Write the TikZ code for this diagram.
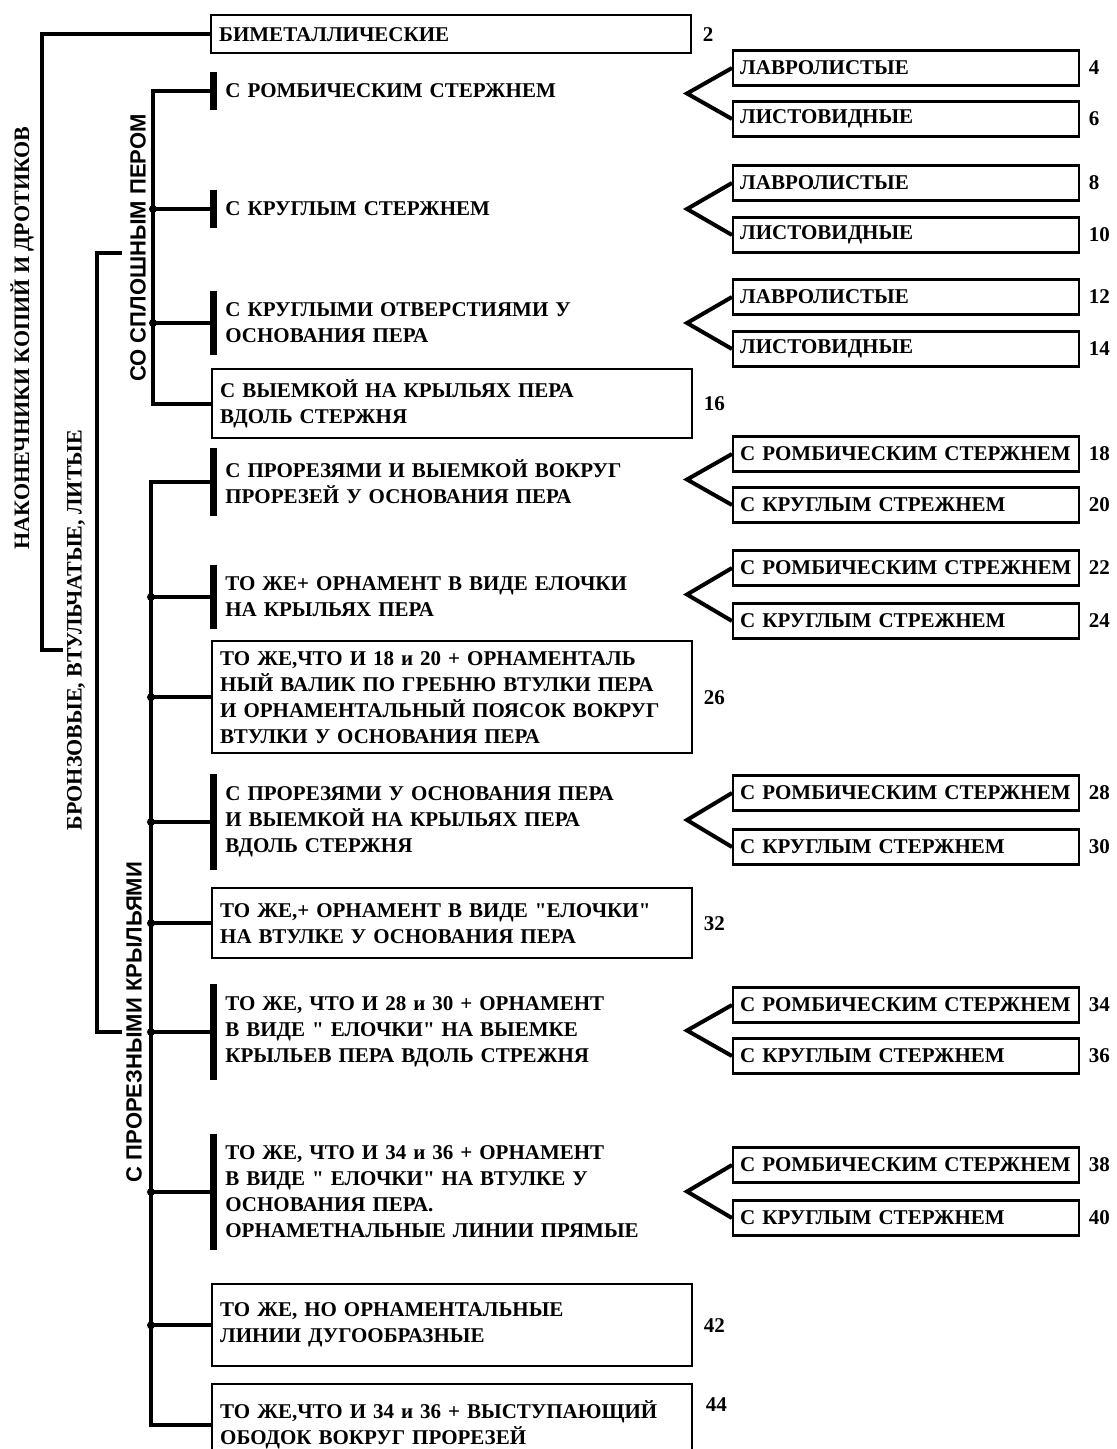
\documentclass[tikz,border=0pt]{standalone}
\usepackage{fontspec}
\setmainfont{Liberation Serif}
\newfontfamily\labelsans{Liberation Sans}
\usetikzlibrary{positioning, calc}
\newcommand\boxfont{\fontsize{10.5}{13}\selectfont\bfseries}
\newcommand\tagfont{\fontsize{11}{13}\selectfont\bfseries}
\newcommand\sidesans{\labelsans\fontsize{11}{13}\selectfont\bfseries}

\begin{document}
\begin{tikzpicture}[x=0.5pt, y=-0.5pt,
    mainbox/.style={draw, line width=1.2pt, anchor=north west, align=left, text width=232pt, inner xsep=4pt, font=\boxfont},
    subbox/.style={draw, line width=1.2pt, anchor=west, align=left, text width=166pt, inner xsep=3.5pt, minimum height=17.5pt, font=\boxfont},
    stem/.style={anchor=west, align=left, text width=232pt, inner xsep=6pt, inner ysep=6pt, font=\boxfont},
    stembar/.style={line width=3.5pt},
    link/.style={line width=2pt},
    jdot/.style={circle, fill, inner sep=0pt, minimum size=4pt},
    numlbl/.style={font=\boxfont, inner sep=1pt},
    sidelabel/.style={rotate=90, font=\tagfont, inner sep=1pt}]
    \useasboundingbox (0,0) rectangle (1116,1449);

    % side labels
    \node[sidelabel] (nak) at (22,338) {НАКОНЕЧНИКИ КОПИЙ И ДРОТИКОВ};
    \node[sidelabel] (bro) at (76,630) {БРОНЗОВЫЕ, ВТУЛЬЧАТЫЕ, ЛИТЫЕ};
    \node[sidelabel, font=\sidesans] (sol) at (138,248) {СО СПЛОШНЫМ ПЕРОМ};
    \node[sidelabel, font=\sidesans] (slo) at (134,1022) {С ПРОРЕЗНЫМИ КРЫЛЬЯМИ};

    % bimetal
    \node[mainbox, minimum height=19pt] (b2) at (210,14) {БИМЕТАЛЛИЧЕСКИЕ};
    \node[numlbl, right=4pt of b2] (n2) {2};

    % solid blade
    \node[stem] (i4) at (213,91) {С РОМБИЧЕСКИМ СТЕРЖНЕМ};
    \node[stem] (i8) at (213,209) {С КРУГЛЫМ СТЕРЖНЕМ};
    \node[stem] (i12) at (213,323) {С КРУГЛЫМИ ОТВЕРСТИЯМИ У\\ОСНОВАНИЯ ПЕРА};
    \node[mainbox, minimum height=34.5pt] (b16) at (211,368) {С ВЫЕМКОЙ НА КРЫЛЬЯХ ПЕРА\\ВДОЛЬ СТЕРЖНЯ};
    \node[numlbl, right=4pt of b16] (n16) {16};

    \node[subbox] (s4) at (732,68) {ЛАВРОЛИСТЫЕ};
    \node[subbox] (s6) at (732,119) {ЛИСТОВИДНЫЕ};
    \node[subbox] (s8) at (732,183) {ЛАВРОЛИСТЫЕ};
    \node[subbox] (s10) at (732,235) {ЛИСТОВИДНЫЕ};
    \node[subbox] (s12) at (732,297) {ЛАВРОЛИСТЫЕ};
    \node[subbox] (s14) at (732,349) {ЛИСТОВИДНЫЕ};
    \node[numlbl, right=3pt of s4] (n4) {4};
    \node[numlbl, right=3pt of s6] (n6) {6};
    \node[numlbl, right=3pt of s8] (n8) {8};
    \node[numlbl, right=3pt of s10] (n10) {10};
    \node[numlbl, right=3pt of s12] (n12) {12};
    \node[numlbl, right=3pt of s14] (n14) {14};

    % slotted wings
    \node[stem] (i18) at (213,482) {С ПРОРЕЗЯМИ И ВЫЕМКОЙ ВОКРУГ\\ПРОРЕЗЕЙ У ОСНОВАНИЯ ПЕРА};
    \node[stem] (i22) at (213,597) {ТО ЖЕ+ ОРНАМЕНТ В ВИДЕ ЕЛОЧКИ\\НА КРЫЛЬЯХ ПЕРА};
    \node[mainbox, minimum height=56pt] (b26) at (211,640) {ТО ЖЕ,ЧТО И 18 и 20 + ОРНАМЕНТАЛЬ\\НЫЙ ВАЛИК ПО ГРЕБНЮ ВТУЛКИ ПЕРА\\И ОРНАМЕНТАЛЬНЫЙ ПОЯСОК ВОКРУГ\\ВТУЛКИ У ОСНОВАНИЯ ПЕРА};
    \node[numlbl, right=4pt of b26] (n26) {26};
    \node[stem] (i28) at (213,822) {С ПРОРЕЗЯМИ У ОСНОВАНИЯ ПЕРА\\И ВЫЕМКОЙ НА КРЫЛЬЯХ ПЕРА\\ВДОЛЬ СТЕРЖНЯ};
    \node[mainbox, minimum height=35pt] (b32) at (211,887) {ТО ЖЕ,+ ОРНАМЕНТ В ВИДЕ \textquotedbl ЕЛОЧКИ\textquotedbl\\НА ВТУЛКЕ У ОСНОВАНИЯ ПЕРА};
    \node[numlbl, right=4pt of b32] (n32) {32};
    \node[stem] (i34) at (213,1032) {ТО ЖЕ, ЧТО И 28 и 30 + ОРНАМЕНТ\\В ВИДЕ \textquotedbl\ ЕЛОЧКИ\textquotedbl\ НА ВЫЕМКЕ\\КРЫЛЬЕВ ПЕРА ВДОЛЬ СТРЕЖНЯ};
    \node[stem] (i38) at (213,1192) {ТО ЖЕ, ЧТО И 34 и 36 + ОРНАМЕНТ\\В ВИДЕ \textquotedbl\ ЕЛОЧКИ\textquotedbl\ НА ВТУЛКЕ У\\ОСНОВАНИЯ ПЕРА.\\ОРНАМЕТНАЛЬНЫЕ ЛИНИИ ПРЯМЫЕ};
    \node[mainbox, minimum height=41pt] (b42) at (211,1283) {ТО ЖЕ, НО ОРНАМЕНТАЛЬНЫЕ\\ЛИНИИ ДУГООБРАЗНЫЕ};
    \node[numlbl, right=4pt of b42] (n42) {42};
    \node[mainbox, minimum height=41pt] (b44) at (211,1383) {ТО ЖЕ,ЧТО И 34 и 36 + ВЫСТУПАЮЩИЙ\\ОБОДОК ВОКРУГ ПРОРЕЗЕЙ};
    \node[numlbl, anchor=west] (n44) at ([xshift=5pt, yshift=-11pt]b44.north east) {44};

    \node[subbox] (s18) at (732,454) {С РОМБИЧЕСКИМ СТЕРЖНЕМ};
    \node[subbox] (s20) at (732,505) {С КРУГЛЫМ СТРЕЖНЕМ};
    \node[subbox] (s22) at (732,568) {С РОМБИЧЕСКИМ СТРЕЖНЕМ};
    \node[subbox] (s24) at (732,621) {С КРУГЛЫМ СТРЕЖНЕМ};
    \node[subbox] (s28) at (732,793) {С РОМБИЧЕСКИМ СТЕРЖНЕМ};
    \node[subbox] (s30) at (732,847) {С КРУГЛЫМ СТЕРЖНЕМ};
    \node[subbox] (s34) at (732,1005) {С РОМБИЧЕСКИМ СТЕРЖНЕМ};
    \node[subbox] (s36) at (732,1056) {С КРУГЛЫМ СТЕРЖНЕМ};
    \node[subbox] (s38) at (732,1165) {С РОМБИЧЕСКИМ СТЕРЖНЕМ};
    \node[subbox] (s40) at (732,1218) {С КРУГЛЫМ СТЕРЖНЕМ};
    \node[numlbl, right=3pt of s18] (n18) {18};
    \node[numlbl, right=3pt of s20] (n20) {20};
    \node[numlbl, right=3pt of s22] (n22) {22};
    \node[numlbl, right=3pt of s24] (n24) {24};
    \node[numlbl, right=3pt of s28] (n28) {28};
    \node[numlbl, right=3pt of s30] (n30) {30};
    \node[numlbl, right=3pt of s34] (n34) {34};
    \node[numlbl, right=3pt of s36] (n36) {36};
    \node[numlbl, right=3pt of s38] (n38) {38};
    \node[numlbl, right=3pt of s40] (n40) {40};

    % brackets
    \coordinate (oc) at (42,650);
    \coordinate (oe) at (63,650);
    \draw[link] (b2.west) -| (oc) -- (oe);
    \coordinate (bt) at (122,253);
    \coordinate (bb) at (97,1032);
    \coordinate (be) at (122,1032);
    \draw[link] (bt) -| (bb) -- (be);

    % solid spine
    \coordinate (sx) at (153,0);
    \draw[link] (i4.west) -| (sx |- b16.west) -- (b16.west);
    \draw[link] (sx |- i8.west) -- (i8.west);
    \draw[link] (sx |- i12.west) -- (i12.west);
    \node[jdot] (d8) at (sx |- i8.west) {};
    \node[jdot] (d12) at (sx |- i12.west) {};

    % slotted spine
    \coordinate (px) at (151,0);
    \draw[link] (i18.west) -| (px |- b44.west) -- (b44.west);
    \draw[link] (px |- i22.west) -- (i22.west);
    \draw[link] (px |- b26.west) -- (b26.west);
    \draw[link] (px |- i28.west) -- (i28.west);
    \draw[link] (px |- b32.west) -- (b32.west);
    \draw[link] (px |- i34.west) -- (i34.west);
    \draw[link] (px |- i38.west) -- (i38.west);
    \draw[link] (px |- b42.west) -- (b42.west);
    \node[jdot] (d22) at (px |- i22.west) {};
    \node[jdot] (d26) at (px |- b26.west) {};
    \node[jdot] (d28) at (px |- i28.west) {};
    \node[jdot] (d32) at (px |- b32.west) {};
    \node[jdot] (d34) at (px |- i34.west) {};
    \node[jdot] (d38) at (px |- i38.west) {};
    \node[jdot] (d42) at (px |- b42.west) {};

    % bars
    \draw[stembar] (i4.north west) -- (i4.south west);
    \draw[stembar] (i8.north west) -- (i8.south west);
    \draw[stembar] (i12.north west) -- (i12.south west);
    \draw[stembar] (i18.north west) -- (i18.south west);
    \draw[stembar] (i22.north west) -- (i22.south west);
    \draw[stembar] (i28.north west) -- (i28.south west);
    \draw[stembar] (i34.north west) -- (i34.south west);
    \draw[stembar] (i38.north west) -- (i38.south west);

    % forks
    \draw[link] (s4.west) -- ($(s4.west)!.5!(s6.west)+(-45,0)$) -- (s6.west);
    \draw[link] (s8.west) -- ($(s8.west)!.5!(s10.west)+(-45,0)$) -- (s10.west);
    \draw[link] (s12.west) -- ($(s12.west)!.5!(s14.west)+(-45,0)$) -- (s14.west);
    \draw[link] (s18.west) -- ($(s18.west)!.5!(s20.west)+(-45,0)$) -- (s20.west);
    \draw[link] (s22.west) -- ($(s22.west)!.5!(s24.west)+(-45,0)$) -- (s24.west);
    \draw[link] (s28.west) -- ($(s28.west)!.5!(s30.west)+(-45,0)$) -- (s30.west);
    \draw[link] (s34.west) -- ($(s34.west)!.5!(s36.west)+(-45,0)$) -- (s36.west);
    \draw[link] (s38.west) -- ($(s38.west)!.5!(s40.west)+(-45,0)$) -- (s40.west);
  \end{tikzpicture}
\end{document}
